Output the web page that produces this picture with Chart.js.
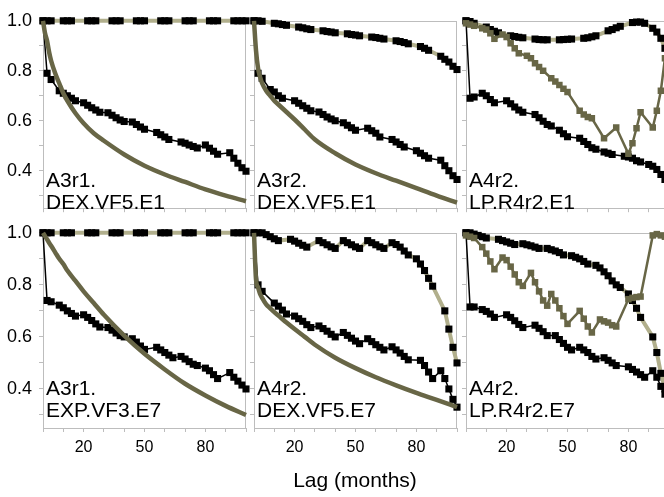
<!DOCTYPE html>
<html>
<head>
<meta charset="utf-8">
<script src="https://cdn.jsdelivr.net/npm/chart.js@4.4.0/dist/chart.umd.min.js"></script>
<style>
  html, body { margin: 0; padding: 0; background: #fff; }
  body { width: 664px; height: 497px; overflow: hidden; position: relative;
         font-family: 'Liberation Sans', Arial, Helvetica, sans-serif; }
  canvas { position: absolute; }
  .lbl { position: absolute; font-size: 21px; line-height: 22px; color: #000; white-space: nowrap; z-index: 5; }
  #xtitle { position: absolute; left: 255px; width: 200px; top: 469px; text-align: center;
            font-size: 21px; line-height: 22px; color: #000; z-index: 5; }
</style>
</head>
<body>
<div id="xtitle">Lag (months)</div>
<script>
const _ = null;

// lags (months) of the empirical series, one value every 2 months
const lags = [0, 2, 4, 6, 8, 10, 12, 14, 16, 18,
  20, 22, 24, 26, 28, 30, 32, 34, 36, 38,
  40, 42, 44, 46, 48, 50, 52, 54, 56, 58,
  60, 62, 64, 66, 68, 70, 72, 74, 76, 78,
  80, 82, 84, 86, 88, 90, 92, 94, 96, 98, 100];

// lags of the smooth model curves
const curveLags = [0, 1, 2, 3, 4, 6, 8, 10, 12, 16, 20, 25, 30, 40, 50, 60, 70, 80, 90, 100];

// A3r1. DEX.VF5.E1
const p1Top = [1, 1, 1, _, _, 1, 1, 1, _, _,
  _, 1, 1, 1, _, _, _, 1, 1, 1,
  _, _, _, 1, 1, 1, _, _, _, 1,
  1, 1, _, _, _, 1, 1, 1, _, _,
  _, 1, 1, 1, _, _, _, 1, 1, 1, 1];
const p1Low = [1.0, .79, .765, _, .72, .71, .70, .69, .68, _,
  .672, .662, .652, .643, .634, _, .632, .622, .612, .603,
  .597, _, .595, .585, .575, .566, _, _, .553, .544,
  .535, .525, _, _, .515, .51, .503, .497, .491, _,
  .503, .49, .478, .466, _, _, .472, .45, .43, .412, .398];
const p1Curve = [1.0, .95, .92, .875, .84, .79, .75, .71, .68, .63, .59, .55, .52, .465, .42, .385, .355, .325, .30, .278];

// A3r2. DEX.VF5.E1
const p2Top = [1, 1, .998, _, _, .99, .988, .985, .982, _,
  _, .975, .972, .968, .965, _, _, .96, .957, .955,
  .952, _, _, .948, .945, .943, .94, _, _, .935,
  .933, .93, .927, _, _, .92, .917, .913, .908, _,
  _, .897, .89, .882, _, _, .858, .846, .835, .818, .805];
const p2Low = [1.0, .79, .77, _, .725, .715, .70, .69, _, _,
  .68, .67, .66, .65, .64, _, .635, .625, .615, .607,
  .60, _, .592, .582, .572, .562, _, _, .57, .56,
  .55, .535, _, _, .525, .515, .505, .495, _, _,
  .48, .47, .46, .45, _, _, .442, .42, .40, .38, .365];
const p2Curve = [1.0, .88, .81, .775, .75, .72, .70, .68, .665, .635, .605, .565, .525, .47, .425, .39, .36, .33, .30, .272];

// A4r2. LP.R4r2.E1
const p3Top = [1, .997, .99, _, _, .975, .965, .958, .952, _,
  _, .94, .937, .934, .932, _, _, .927, .925, .924,
  .924, _, _, .924, .925, .926, .927, _, _, .93,
  .932, .936, .94, _, _, .96, .965, .972, .978, _,
  _, .993, .995, .995, .99, _, .97, .955, .93, .89, .85];
const p3Low = [1.0, .69, .695, _, .71, .70, .685, .672, _, _,
  .68, .668, .655, .643, .634, _, _, .625, .612, .598,
  .585, .579, _, .562, .548, .536, _, _, .53, .517,
  .505, .492, .486, _, .475, .47, .465, _, _, .458,
  .455, .45, .44, .435, _, .425, .418, .405, .385, .365, .345];
const p3Fit = [.99, .985, .98, _, .97, .965, .95, .928, _, .945,
  .935, .91, .89, .87, _, .86, .85, .83, .815, .80,
  _, .77, .757, .743, .728, .715, _, _, .64, .625,
  .615, .61, _, _, .53, _, _, .573, _, _,
  .468, .51, .57, .634, _, _, .573, .64, .72, .85, .95];

// A3r1. EXP.VF3.E7
const p4Top = [1, 1, 1, _, _, 1, 1, 1, _, _,
  _, 1, 1, 1, _, _, _, 1, 1, 1,
  _, _, _, 1, 1, 1, _, _, _, 1,
  1, 1, _, _, _, 1, 1, 1, _, _,
  _, 1, 1, 1, _, _, _, 1, 1, 1, 1];
const p4Low = [1.0, .74, .735, _, .722, .712, .70, .69, .68, _,
  .685, .675, .663, .65, .638, _, .636, .626, .615, .605,
  .60, _, .593, .58, .565, .552, _, _, .56, .55,
  .54, .53, .52, _, .525, .515, .505, .495, .49, _,
  .48, .47, .455, .44, _, _, .463, .445, .43, .415, .40];
const p4Curve = [1.0, .987, .975, .962, .95, .925, .90, .88, .855, .815, .775, .73, .685, .605, .535, .475, .42, .375, .335, .30];

// A4r2. DEX.VF5.E7
const p5Top = [1, 1, 1, .993, .985, .977, .97, _, _, .975,
  .968, .96, .952, .945, _, _, .97, .962, .954, .946,
  .94, _, .97, .962, .954, .946, .94, _, .97, .962,
  .954, .946, .94, _, .962, .955, .945, .93, .915, _,
  .90, .88, .855, .825, .795, _, _, .70, .63, .56, .50];
const p5Low = [1.0, .80, .775, _, _, .73, .718, .703, .688, _,
  .68, .67, .66, .647, .636, _, .642, .632, .622, .61,
  .60, _, .617, .606, .595, .584, .574, _, .593, .582,
  .57, .56, .55, _, .562, .55, .538, .525, .512, _,
  _, .51, .49, .465, .44, _, .47, .44, .40, .36, .33];
const p5Curve = [1.0, .82, .79, .765, .75, .725, .71, .695, .682, .655, .63, .60, .57, .52, .48, .445, .414, .385, .358, .33];

// A4r2. LP.R4r2.E7
const p6Top = [1, 1, .995, .99, .985, .98, _, _, .975, .97,
  .965, .96, .955, _, .958, .954, .95, .945, .94, _,
  .94, .935, .93, .924, .915, _, .912, .906, .90, .89,
  .88, _, .875, .865, .85, .835, .815, .80, .79, _,
  .765, .74, .71, .675, _, _, .60, .54, .46, .40, .36];
const p6Low = [1.0, .715, .715, _, .705, .698, .688, .675, _, _,
  .685, .675, .662, .648, .636, _, _, .645, .633, .62,
  .605, _, .605, .59, .575, .56, .55, _, .56, .55,
  .54, .525, .515, _, .52, .51, .50, .49, _, _,
  .485, .475, .465, .455, .445, _, .47, .445, .41, .38, .35];
const p6Fit = [.99, .985, .98, _, .945, .92, .89, .86, _, .905,
  .895, .87, .84, .81, .796, _, .846, .81, .775, .74,
  .72, .765, .74, .71, .68, .65, _, _, .70, .67,
  .64, .617, _, .667, .66, .655, .645, .64, _, _,
  .745, .75, .753, .755, _, _, .99, .995, .99, .985, .98];

const xLabels = [20, 50, 80];
const yLabels = [0.4, 0.6, 0.8, 1.0];

const BLACK = '#000000';
const KHAKI = '#b1af8c';
const OLIVE = '#686646';
const AXIS = '#bdbdbd';

Chart.defaults.font.family = "'Liberation Sans', Arial, Helvetica, sans-serif";
Chart.defaults.font.size = 16;
Chart.defaults.color = '#000';

const colLeft = [43, 254, 466];
const rowTop = [13, 225];
const plotSize = 203;

const panels = [
  { col: 0, row: 0, top: p1Top, low: p1Low, curve: p1Curve, name: ['A3r1.', 'DEX.VF5.E1'] },
  { col: 1, row: 0, top: p2Top, low: p2Low, curve: p2Curve, name: ['A3r2.', 'DEX.VF5.E1'] },
  { col: 2, row: 0, top: p3Top, low: p3Low, fit: p3Fit, name: ['A4r2.', 'LP.R4r2.E1'] },
  { col: 0, row: 1, top: p4Top, low: p4Low, curve: p4Curve, name: ['A3r1.', 'EXP.VF3.E7'] },
  { col: 1, row: 1, top: p5Top, low: p5Low, curve: p5Curve, name: ['A4r2.', 'DEX.VF5.E7'] },
  { col: 2, row: 1, top: p6Top, low: p6Low, fit: p6Fit, name: ['A4r2.', 'LP.R4r2.E7'] }
];

function pairs(xs, ys) {
  return xs.map(function (x, i) { return { x: x, y: ys[i] }; });
}

function near(v, list) {
  return list.some(function (t) { return Math.abs(v - t) < 1e-6; });
}

// light grey frame around each plot, under the data
const framePlugin = {
  id: 'frame',
  beforeDatasetsDraw: function (chart) {
    const a = chart.chartArea, ctx = chart.ctx;
    ctx.save();
    ctx.strokeStyle = AXIS;
    ctx.lineWidth = 1;
    ctx.strokeRect(Math.round(a.left) + 0.5, Math.round(a.top) + 0.5,
      Math.round(a.right - a.left) - 1, Math.round(a.bottom - a.top));
    ctx.restore();
  }
};

panels.forEach(function (p) {
  const padL = p.col === 0 ? 43 : 10;
  const padT = 10, padR = 8;
  const xH = p.row === 1 ? 34 : 10;

  const cv = document.createElement('canvas');
  cv.width = padL + plotSize + padR;
  cv.height = padT + plotSize + xH;
  cv.style.left = (colLeft[p.col] - padL) + 'px';
  cv.style.top = (rowTop[p.row] - padT) + 'px';
  document.body.appendChild(cv);

  const datasets = [];
  if (p.curve) {
    datasets.push({
      data: pairs(curveLags, p.curve),
      borderColor: OLIVE, borderWidth: 4.5,
      pointRadius: 0, cubicInterpolationMode: 'monotone', clip: false
    });
  } else {
    datasets.push({
      data: pairs(lags, p.fit),
      borderColor: OLIVE, borderWidth: 2.5,
      pointStyle: 'rect', pointRadius: 4.6, pointBackgroundColor: OLIVE, pointBorderWidth: 0,
      spanGaps: true, clip: false
    });
  }
  datasets.push({
    data: pairs(lags, p.low),
    borderColor: BLACK, borderWidth: 1.5,
    pointStyle: 'rect', pointRadius: 5, pointBackgroundColor: BLACK, pointBorderWidth: 0,
    spanGaps: true, clip: false
  });
  datasets.push({
    data: pairs(lags, p.top),
    borderColor: KHAKI, borderWidth: 4,
    pointStyle: 'rect', pointRadius: 5, pointBackgroundColor: BLACK, pointBorderWidth: 0,
    spanGaps: true, clip: false
  });

  new Chart(cv.getContext('2d'), {
    type: 'line',
    data: { datasets: datasets },
    options: {
      responsive: false,
      animation: false,
      events: [],
      layout: { padding: { top: padT, right: padR, left: 0, bottom: 0 } },
      plugins: { legend: { display: false }, tooltip: { enabled: false } },
      scales: {
        x: {
          type: 'linear', min: 0, max: 100,
          afterFit: function (s) { s.height = xH; },
          ticks: {
            stepSize: 10, autoSkip: false, maxRotation: 0, padding: 6,
            callback: function (v) { return (p.row === 1 && near(v, xLabels)) ? String(v) : ''; }
          },
          grid: { drawOnChartArea: false, drawTicks: true, tickLength: 4, color: AXIS },
          border: { color: AXIS }
        },
        y: {
          min: 0.25, max: 1,
          afterFit: function (s) { s.width = padL; },
          ticks: {
            stepSize: 0.1, includeBounds: false, padding: 7, font: { size: 18 },
            callback: function (v) { return (p.col === 0 && near(v, yLabels)) ? v.toFixed(1) : ''; }
          },
          grid: { drawOnChartArea: false, drawTicks: true, tickLength: 4, color: AXIS },
          border: { color: AXIS }
        }
      }
    },
    plugins: [framePlugin]
  });

  // panel name, two lines in the lower left corner
  const lbl = document.createElement('div');
  lbl.className = 'lbl';
  lbl.style.left = (colLeft[p.col] + 3) + 'px';
  lbl.style.top = (p.row === 0 ? 169 : 377) + 'px';
  lbl.innerHTML = p.name[0] + '<br>' + p.name[1];
  document.body.appendChild(lbl);
});
</script>
</body>
</html>
